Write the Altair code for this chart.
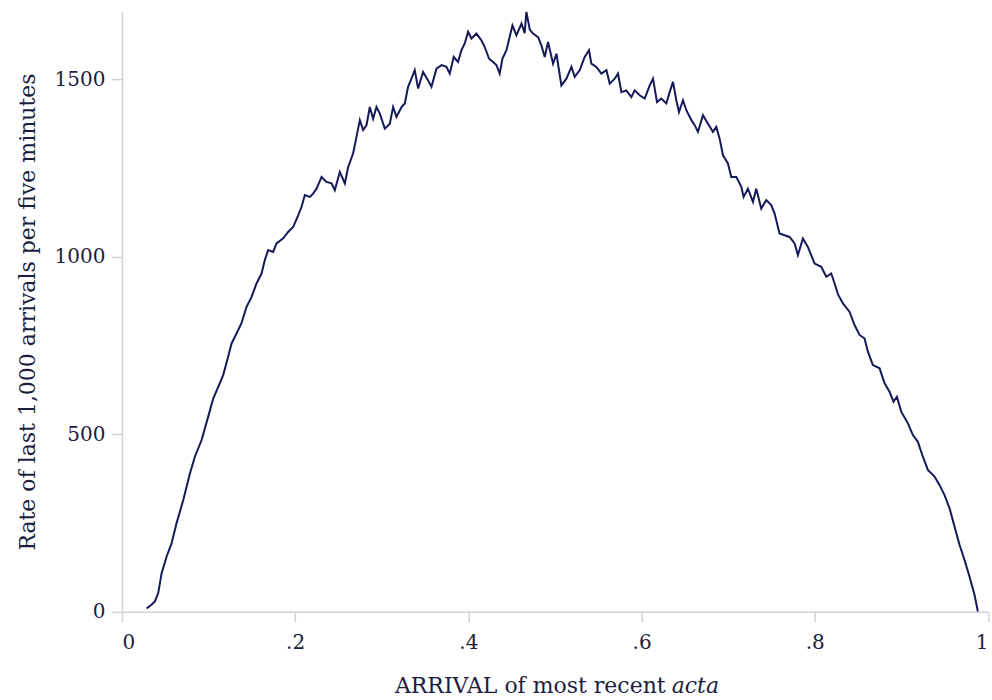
import altair as alt
import pandas as pd

# Arrival share (x) and rolling rate of the last 1,000 arrivals (y)
arrival = [
    0.0285, 0.0330, 0.0380, 0.0419, 0.0458, 0.0516, 0.0573, 0.0631, 0.0708, 0.0785,
    0.0842, 0.0920, 0.0996, 0.1054, 0.1112, 0.1169, 0.1227, 0.1266, 0.1323, 0.1380,
    0.1439, 0.1497, 0.1554, 0.1612, 0.1650, 0.1688, 0.1746, 0.1785, 0.1862, 0.1919,
    0.1977, 0.2035, 0.2074, 0.2112, 0.2170, 0.2208, 0.2247, 0.2305, 0.2362, 0.2420,
    0.2458, 0.2516, 0.2574, 0.2612, 0.2669, 0.2708, 0.2747, 0.2785, 0.2824, 0.2862,
    0.2900, 0.2939, 0.2977, 0.3035, 0.3093, 0.3131, 0.3170, 0.3228, 0.3266, 0.3304,
    0.3343, 0.3381, 0.3420, 0.3477, 0.3535, 0.3574, 0.3632, 0.3690, 0.3747, 0.3785,
    0.3831, 0.3881, 0.3920, 0.3958, 0.3997, 0.4036, 0.4093, 0.4151, 0.4189, 0.4239,
    0.4285, 0.4324, 0.4362, 0.4393, 0.4440, 0.4509, 0.4555, 0.4613, 0.4650, 0.4670,
    0.4709, 0.4747, 0.4805, 0.4843, 0.4882, 0.4920, 0.4978, 0.5017, 0.5074, 0.5132,
    0.5190, 0.5228, 0.5286, 0.5343, 0.5393, 0.5420, 0.5478, 0.5536, 0.5594, 0.5632,
    0.5690, 0.5728, 0.5767, 0.5824, 0.5882, 0.5920, 0.5978, 0.6036, 0.6094, 0.6132,
    0.6178, 0.6228, 0.6286, 0.6324, 0.6363, 0.6401, 0.6432, 0.6478, 0.6517, 0.6575,
    0.6613, 0.6651, 0.6709, 0.6767, 0.6824, 0.6863, 0.6901, 0.6940, 0.6997, 0.7036,
    0.7094, 0.7152, 0.7178, 0.7228, 0.7286, 0.7324, 0.7382, 0.7440, 0.7497, 0.7536,
    0.7593, 0.7651, 0.7709, 0.7767, 0.7805, 0.7863, 0.7920, 0.7998, 0.8075, 0.8133,
    0.8190, 0.8229, 0.8267, 0.8325, 0.8402, 0.8459, 0.8517, 0.8575, 0.8613, 0.8671,
    0.8748, 0.8806, 0.8863, 0.8909, 0.8948, 0.8998, 0.9075, 0.9133, 0.9190, 0.9248,
    0.9306, 0.9383, 0.9441, 0.9498, 0.9556, 0.9614, 0.9671, 0.9729, 0.9787, 0.9844,
    0.9883,
]
rate = [
    10, 18, 29, 53, 109, 156, 193, 250, 315, 390,
    437, 484, 550, 601, 634, 667, 719, 756, 784, 813,
    859, 887, 925, 953, 991, 1019, 1014, 1038, 1052, 1070,
    1084, 1117, 1141, 1174, 1169, 1178, 1192, 1225, 1211, 1207,
    1188, 1239, 1207, 1253, 1291, 1338, 1385, 1357, 1371, 1422,
    1389, 1422, 1404, 1361, 1375, 1422, 1394, 1422, 1432, 1479,
    1502, 1526, 1474, 1521, 1497, 1479, 1530, 1540, 1535, 1516,
    1563, 1549, 1582, 1601, 1634, 1615, 1629, 1610, 1591, 1558,
    1549, 1540, 1516, 1558, 1582, 1652, 1624, 1657, 1630, 1690,
    1640, 1629, 1619, 1596, 1563, 1605, 1544, 1572, 1483, 1502,
    1535, 1507, 1526, 1563, 1582, 1544, 1535, 1516, 1526, 1488,
    1502, 1516, 1464, 1469, 1450, 1469, 1455, 1446, 1483, 1502,
    1436, 1446, 1432, 1464, 1493, 1441, 1408, 1441, 1413, 1385,
    1371, 1352, 1399, 1375, 1352, 1366, 1333, 1286, 1263, 1225,
    1225, 1197, 1169, 1192, 1155, 1192, 1136, 1160, 1146, 1122,
    1066, 1061, 1056, 1038, 1005, 1052, 1028, 981, 972, 944,
    953, 925, 895, 869, 845, 808, 780, 770, 733, 695,
    686, 644, 620, 592, 606, 564, 531, 498, 479, 437,
    400, 381, 357, 329, 292, 240, 189, 146, 99, 48,
    1,
]

x_ticks = [0, 0.2, 0.4, 0.6, 0.8, 1]
y_ticks = [0, 500, 1000, 1500]

FONT = "DejaVu Serif"
INK = "#1d1d3f"
LINE = "#15195a"
AXIS_GREY = "#d2d2d2"
LABEL_SIZE = 20
TITLE_SIZE = 22

W, H = 866.5, 601

df = pd.DataFrame({"arrival": arrival, "rate": rate})

line = alt.Chart(df).mark_line(color=LINE, strokeWidth=2).encode(
    x=alt.X(
        "arrival:Q",
        scale=alt.Scale(domain=[0, 1], nice=False, zero=False),
        axis=alt.Axis(
            values=x_ticks,
            title=None,
            grid=False,
            domainColor=AXIS_GREY,
            domainWidth=1.5,
            tickColor=AXIS_GREY,
            tickWidth=1.5,
            tickSize=10,
            labelPadding=11,
            labelFont=FONT,
            labelFontSize=LABEL_SIZE,
            labelColor=INK,
            labelExpr="datum.value == 0 ? '0' : datum.value == 1 ? '1' : substring(format(datum.value, '.1f'), 1)",
        ),
    ),
    y=alt.Y(
        "rate:Q",
        scale=alt.Scale(domain=[0, 1692], nice=False),
        axis=alt.Axis(
            values=y_ticks,
            format="d",
            title="Rate of last 1,000 arrivals per five minutes",
            grid=False,
            domainColor=AXIS_GREY,
            domainWidth=1.5,
            tickColor=AXIS_GREY,
            tickWidth=1.5,
            tickSize=10,
            labelPadding=7,
            labelFont=FONT,
            labelFontSize=LABEL_SIZE,
            labelColor=INK,
            titleFont=FONT,
            titleFontSize=TITLE_SIZE,
            titleFontWeight="normal",
            titleColor=INK,
            titleAngle=270,
            titleX=-94,
            titleY=H / 2,
            titleAlign="center",
            titleBaseline="middle",
        ),
    ),
)

# x-axis title, with the Latin word set in italics
title_main = alt.Chart(pd.DataFrame({"t": ["ARRIVAL of most recent"]})).mark_text(
    font=FONT, fontSize=TITLE_SIZE, color=INK, align="right", baseline="alphabetic"
).encode(text="t:N", x=alt.value(544), y=alt.value(682))

title_italic = alt.Chart(pd.DataFrame({"t": ["acta"]})).mark_text(
    font=FONT, fontSize=TITLE_SIZE, fontStyle="italic", color=INK, align="left", baseline="alphabetic"
).encode(text="t:N", x=alt.value(550), y=alt.value(682))

chart = (
    alt.layer(line, title_main, title_italic)
    .properties(
        width=W,
        height=H,
        autosize=alt.AutoSizeParams(type="none"),
        padding={"left": 122, "top": 11, "right": 4, "bottom": 88},
        background="white",
    )
    .configure_view(stroke=None)
)

chart.save("out.html", embed_options={"renderer": "svg", "actions": False})
